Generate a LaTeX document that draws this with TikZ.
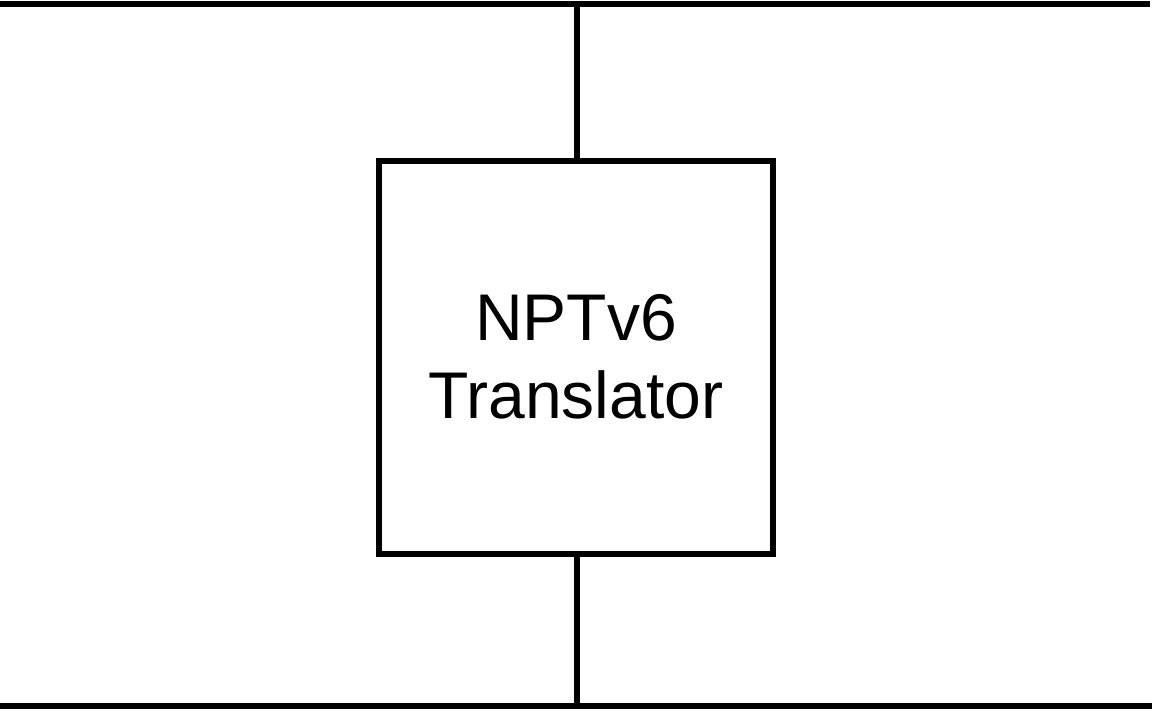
\documentclass[tikz,border=0pt]{standalone}
\usepackage{fontspec}
\setmainfont{Liberation Sans}
\begin{document}
\begin{tikzpicture}[x=1pt,y=-1pt,
  wire/.style={line width=6pt},
  box/.style={draw,line width=6pt,minimum width=394pt,minimum height=393pt,inner sep=0pt,align=center,font=\fontsize{66}{78}\selectfont}]
\useasboundingbox (0,0) rectangle (1154,710);
\coordinate (tl) at (0,4);
\coordinate (tr) at (1150,4);
\coordinate (bl) at (0,706);
\coordinate (br) at (1152,706);
\node[box] (t) at (576,357) {NPTv6\\Translator};
\coordinate (top) at (577,4);
\coordinate (bot) at (577,706);
\draw[wire] (tl) -- (tr);
\draw[wire] (bl) -- (br);
\draw[wire] (top) -- (t.north -| top);
\draw[wire] (t.south -| bot) -- (bot);
\end{tikzpicture}
\end{document}
